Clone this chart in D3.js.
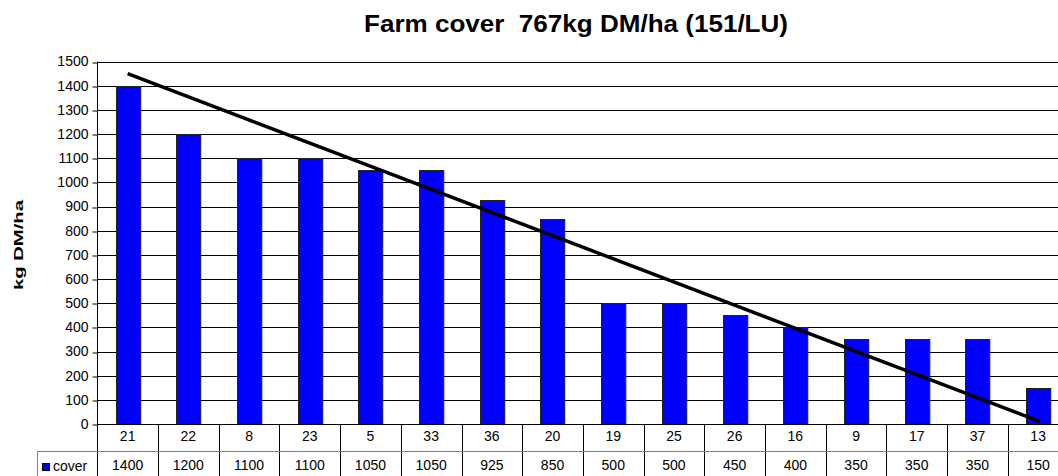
<html>
<head>
<title>Farm cover</title>
<style>
  body { margin: 0; background: #fff; }
  svg { display: block; font-family: "Liberation Sans", Arial, sans-serif; }
</style>
</head>
<body>
<script src="https://d3js.org/d3.v7.min.js"></script>
<svg></svg>
<script>
// paddock ids and their cover (kg DM/ha)
var paddocks = ["21", "22", "8", "23", "5", "33", "36", "20", "19", "25", "26", "16", "9", "17", "37", "13"];
var cover = [1400, 1200, 1100, 1100, 1050, 1050, 925, 850, 500, 500, 450, 400, 350, 350, 350, 150];
// wedge line: value at first and last paddock
var wedge = [1450, 10];
var yTicks = [0, 100, 200, 300, 400, 500, 600, 700, 800, 900, 1000, 1100, 1200, 1300, 1400, 1500];

var width = 1058, height = 476;
var left = 97.3, colW = 60.7;
var plotTop = 61.5, base = 424;
var rowH = 27;

var svg = d3.select("svg").attr("width", width).attr("height", height);

var x = d3.scaleBand()
  .domain(paddocks)
  .range([left, left + colW * paddocks.length])
  .paddingInner(0.6).paddingOuter(0.3);
var xc = d3.scaleBand().domain(paddocks).range([left, left + colW * paddocks.length]);

var y = d3.scaleLinear().domain([0, 1500]).range([base, plotTop]);

// title
svg.append("text")
  .attr("x", 576).attr("y", 32)
  .attr("text-anchor", "middle")
  .attr("textLength", 424).attr("lengthAdjust", "spacingAndGlyphs")
  .style("font-weight", "bold").style("font-size", "24px")
  .style("white-space", "pre")
  .text("Farm cover  767kg DM/ha (151/LU)");

// y label
svg.append("text")
  .attr("transform", "translate(23,245) rotate(-90)")
  .attr("text-anchor", "middle")
  .attr("textLength", 90).attr("lengthAdjust", "spacingAndGlyphs")
  .style("font-weight", "bold").style("font-size", "13px")
  .text("kg DM/ha");

// gridlines
svg.append("g").selectAll("line").data(yTicks.slice(1)).enter().append("line")
  .attr("x1", left).attr("x2", width)
  .attr("y1", d => Math.round(y(d)) + 0.5).attr("y2", d => Math.round(y(d)) + 0.5)
  .style("stroke", "#000").style("stroke-width", 1);

// y axis
var yAxis = svg.append("g")
  .attr("transform", "translate(" + (Math.round(left) + 0.5) + ",0)")
  .call(d3.axisLeft(y).tickValues(yTicks).tickSize(5).tickPadding(4).tickFormat(d3.format("d")));
yAxis.select(".domain").remove();
yAxis.selectAll("text").style("font-size", "14px").style("font-family", "Liberation Sans, Arial, sans-serif").attr("fill", "#000");
yAxis.selectAll("line").attr("transform", d => "translate(0," + (Math.round(y(d)) + 0.5 - y(d)) + ")");

// bars
svg.append("g").selectAll("rect").data(cover).enter().append("rect")
  .attr("x", (d, i) => Math.round(x(paddocks[i])) + 0.5)
  .attr("width", x.bandwidth())
  .attr("y", d => Math.round(y(d)) + 0.5)
  .attr("height", d => base - Math.round(y(d)))
  .style("fill", "#0000ff")
  .style("stroke", "#222")
  .style("stroke-width", 1);

// wedge line
var first = paddocks[0], last = paddocks[paddocks.length - 1];
svg.append("line")
  .attr("x1", xc(first) + xc.bandwidth() / 2)
  .attr("y1", y(wedge[0]))
  .attr("x2", xc(last) + xc.bandwidth() / 2 + 2)
  .attr("y2", y(wedge[1]))
  .style("stroke", "#000").style("stroke-width", 3.5);

// axis lines
var L = Math.round(left) + 0.5;
svg.append("line").attr("x1", L).attr("x2", L).attr("y1", plotTop).attr("y2", height)
  .style("stroke", "#000");
svg.append("line").attr("x1", L).attr("x2", width).attr("y1", base + 0.5).attr("y2", base + 0.5)
  .style("stroke", "#000");

// data table
var tbl = svg.append("g");
tbl.selectAll("line.col").data(paddocks).enter().append("line")
  .attr("x1", d => Math.round(xc(d) + xc.bandwidth()) + 0.5)
  .attr("x2", d => Math.round(xc(d) + xc.bandwidth()) + 0.5)
  .attr("y1", base).attr("y2", height)
  .style("stroke", "#000");
tbl.append("line").attr("x1", 37).attr("x2", width).attr("y1", base + rowH + 0.5).attr("y2", base + rowH + 0.5)
  .style("stroke", "#808080");
tbl.append("line").attr("x1", 37.5).attr("x2", 37.5).attr("y1", base + rowH).attr("y2", height)
  .style("stroke", "#808080");

tbl.selectAll("text.cat").data(paddocks).enter().append("text")
  .attr("x", d => xc(d) + xc.bandwidth() / 2)
  .attr("y", 441)
  .attr("text-anchor", "middle")
  .style("font-size", "14px")
  .text(d => d);
tbl.selectAll("text.val").data(cover).enter().append("text")
  .attr("x", (d, i) => xc(paddocks[i]) + xc.bandwidth() / 2)
  .attr("y", 470)
  .attr("text-anchor", "middle")
  .style("font-size", "14px")
  .text(d => d);

// legend key
tbl.append("rect").attr("x", 42.5).attr("y", 463.5).attr("width", 7).attr("height", 7)
  .style("fill", "#0000ff").style("stroke", "#000");
tbl.append("text").attr("x", 53).attr("y", 471).style("font-size", "14px").text("cover");
</script>
</body>
</html>
